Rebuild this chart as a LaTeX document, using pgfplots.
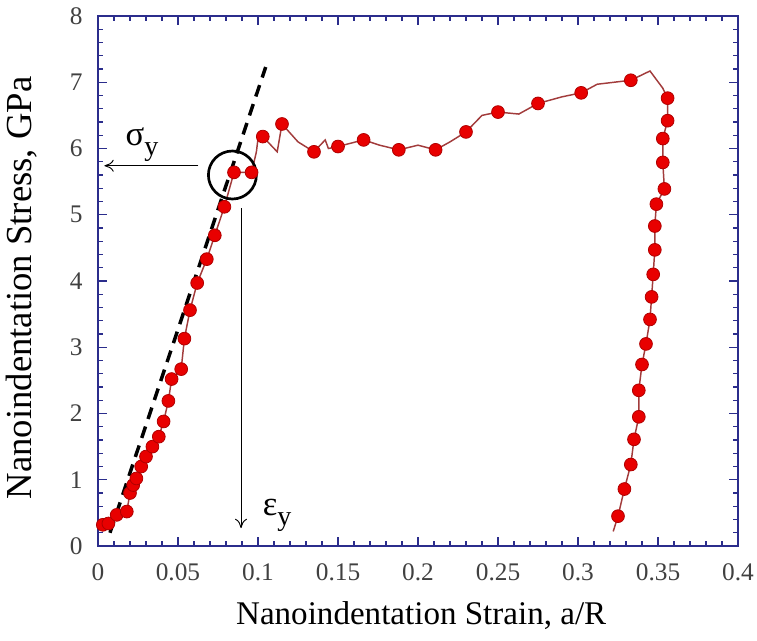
\documentclass[border=0pt]{standalone}
\usepackage{fontspec}
\setmainfont{Liberation Serif}
\usepackage{pgfplots}
\pgfplotsset{compat=1.18}
\usetikzlibrary{arrows.meta}
\definecolor{axnavy}{HTML}{2B2D8C}
\definecolor{curvered}{HTML}{A23C3C}
\definecolor{markred}{HTML}{E80000}
\definecolor{markedge}{HTML}{B00000}
\definecolor{ticktext}{HTML}{404040}
\begin{document}
\begin{tikzpicture}
\useasboundingbox (-73.5pt,-70.5pt) rectangle (494.25pt,409.5pt);
\begin{axis}[
  at={(0,0)}, anchor=south west,
  scale only axis, width=480pt, height=397.5pt,
  xmin=0, xmax=0.4, ymin=0, ymax=8,
  axis line style={axnavy, line width=1.5pt},
  every tick/.style={axnavy, line width=1.1pt},
  tick align=inside,
  major tick length=7pt, minor tick length=4pt,
  xtick={0,0.05,0.1,0.15,0.2,0.25,0.3,0.35,0.4},
  xticklabels={0,0.05,0.1,0.15,0.2,0.25,0.3,0.35,0.4},
  minor x tick num=4,
  ytick={0,1,2,3,4,5,6,7,8},
  minor y tick num=4,
  /pgf/number format/assume math mode=true,
  ticklabel style={font=\fontsize{19}{19}\selectfont, text=ticktext},
  xticklabel style={yshift=-10pt},
  yticklabel style={xshift=-8pt},
  xlabel={Nanoindentation Strain, a/R},
  ylabel={Nanoindentation Stress, GPa},
  xlabel style={font=\fontsize{24.8}{24.8}\selectfont, at={(axis description cs:0.505,-0.132)}, anchor=center},
  ylabel style={font=\fontsize{27.5}{27.5}\selectfont, at={(axis description cs:-0.119,0.487)}, anchor=center},
  clip=false,
]
% elastic fit (dashed)
\addplot[black, line width=2.6pt, dash pattern=on 9pt off 6pt] coordinates {(0.0075,0.2) (0.1048,7.23)};
% curve
\addplot[curvered, line width=1.1pt] coordinates {
(0.003,0.32) (0.0065,0.34) (0.0117,0.47) (0.018,0.52) (0.020,0.80) (0.022,0.92)
(0.024,1.02) (0.027,1.20) (0.030,1.35) (0.034,1.50) (0.038,1.65) (0.041,1.88)
(0.044,2.19) (0.046,2.52) (0.052,2.67) (0.054,3.13) (0.0575,3.56) (0.062,3.97)
(0.068,4.33) (0.073,4.69) (0.079,5.12) (0.085,5.64) (0.096,5.64) (0.099,5.95)
(0.100,6.15) (0.103,6.18) (0.112,5.95) (0.115,6.37) (0.125,6.10) (0.135,5.95)
(0.142,6.13) (0.144,6.00) (0.150,6.03) (0.166,6.13) (0.176,6.05) (0.188,5.98)
(0.200,6.05) (0.211,5.98) (0.220,6.10) (0.230,6.25) (0.240,6.50) (0.250,6.55)
(0.263,6.52) (0.275,6.68) (0.290,6.78) (0.302,6.84) (0.312,6.97) (0.333,7.03)
(0.345,7.17) (0.353,6.91) (0.356,6.76) (0.356,6.42) (0.353,6.15) (0.353,5.79)
(0.354,5.39) (0.349,5.16) (0.348,4.83) (0.348,4.47) (0.347,4.10) (0.346,3.76)
(0.345,3.42) (0.3425,3.05) (0.340,2.74) (0.338,2.35) (0.338,1.95) (0.335,1.61)
(0.333,1.23) (0.329,0.86) (0.325,0.45) (0.322,0.22)
};
% markers
\addplot[only marks, mark=*, mark size=4.8pt, mark options={fill=markred, draw=markedge, line width=0.6pt}] coordinates {
(0.003,0.32) (0.0065,0.34) (0.0117,0.47) (0.018,0.52) (0.020,0.80) (0.022,0.92)
(0.024,1.02) (0.027,1.20) (0.030,1.35) (0.034,1.50) (0.038,1.65) (0.041,1.88)
(0.044,2.19) (0.046,2.52) (0.052,2.67) (0.054,3.13) (0.0575,3.56) (0.062,3.97)
(0.068,4.33) (0.073,4.69) (0.079,5.12) (0.085,5.64) (0.096,5.64) (0.103,6.18)
(0.115,6.37) (0.135,5.95) (0.150,6.03) (0.166,6.13) (0.188,5.98) (0.211,5.98)
(0.230,6.25) (0.250,6.55) (0.275,6.68) (0.302,6.84) (0.333,7.03) (0.356,6.76)
(0.356,6.42) (0.353,6.15) (0.353,5.79) (0.354,5.39) (0.349,5.16) (0.348,4.83)
(0.348,4.47) (0.347,4.10) (0.346,3.76) (0.345,3.42) (0.3425,3.05) (0.340,2.74)
(0.338,2.35) (0.338,1.95) (0.335,1.61) (0.333,1.23) (0.329,0.86) (0.325,0.45)
};
% annotations
\draw[black, line width=2pt] (axis cs:0.084,5.6) circle[radius=18pt];
\draw[black, line width=0.7pt, -{To[length=7pt,width=9pt]}] (axis cs:0.0627,5.74) -- (axis cs:0.004,5.74);
\draw[black, line width=0.7pt, -{To[length=7pt,width=9pt]}] (axis cs:0.0894,5.10) -- (axis cs:0.0894,0.27);
\node[font=\fontsize{26}{26}\selectfont, inner sep=0pt] at (axis cs:0.0275,6.06) {σ\raisebox{-0.3em}{\fontsize{21}{21}\selectfont y}};
\node[font=\fontsize{26}{26}\selectfont, inner sep=0pt] at (axis cs:0.112,0.46) {ε\raisebox{-0.3em}{\fontsize{21}{21}\selectfont y}};
\end{axis}
\end{tikzpicture}
\end{document}
